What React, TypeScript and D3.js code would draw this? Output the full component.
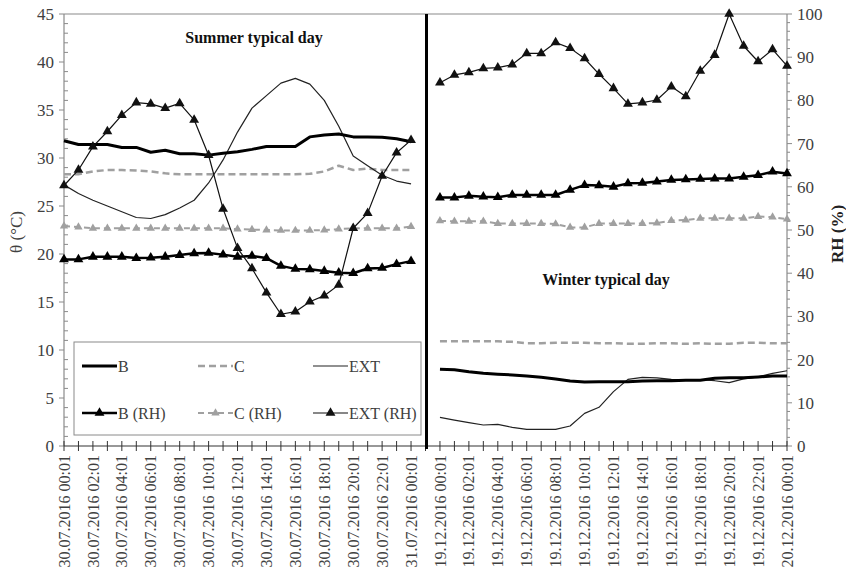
import React from "react";
import * as d3 from "d3";

// Hourly readings, summer typical day (30.07.2016 00:01 … 31.07.2016 00:01)
const summerB = [31.8, 31.4, 31.4, 31.4, 31.1, 31.1, 30.6, 30.8, 30.45, 30.45, 30.3, 30.5, 30.65, 30.9, 31.2, 31.2, 31.2, 32.2, 32.4, 32.5, 32.2, 32.2, 32.15, 32.0, 31.7];
const summerC = [28.3, 28.3, 28.6, 28.75, 28.75, 28.7, 28.6, 28.4, 28.3, 28.3, 28.3, 28.3, 28.3, 28.3, 28.3, 28.3, 28.3, 28.35, 28.6, 29.2, 28.75, 28.9, 28.75, 28.75, 28.75];
const summerExt = [27.2, 26.3, 25.6, 25.0, 24.4, 23.8, 23.7, 24.1, 24.8, 25.6, 27.4, 29.8, 32.7, 35.2, 36.5, 37.8, 38.3, 37.7, 36.0, 33.3, 30.2, 29.2, 28.2, 27.6, 27.3];
const summerBRH = [43.2, 43.2, 43.8, 43.8, 43.8, 43.5, 43.6, 43.8, 44.2, 44.6, 44.7, 44.3, 43.8, 44.0, 43.5, 41.7, 41.0, 40.9, 40.5, 40.1, 40.0, 41.1, 41.2, 42.1, 42.8];
const summerCRH = [50.9, 50.7, 50.4, 50.4, 50.4, 50.4, 50.4, 50.4, 50.4, 50.4, 50.4, 50.4, 50.2, 50.1, 50.0, 49.9, 49.9, 49.9, 50.0, 50.2, 50.4, 50.4, 50.4, 50.4, 50.8];
const summerExtRH = [60.3, 63.9, 69.3, 72.8, 76.6, 79.5, 79.2, 78.2, 79.3, 75.5, 67.3, 54.9, 45.8, 41.1, 35.5, 30.5, 31.1, 33.4, 34.8, 37.3, 50.4, 53.9, 62.5, 67.9, 70.8];

// Hourly readings, winter typical day (19.12.2016 00:01 … 20.12.2016 00:01)
const winterB = [7.99, 7.95, 7.74, 7.57, 7.47, 7.4, 7.29, 7.15, 6.98, 6.77, 6.67, 6.7, 6.7, 6.7, 6.77, 6.8, 6.8, 6.84, 6.84, 7.05, 7.1, 7.1, 7.2, 7.28, 7.28];
const winterC = [10.9, 10.9, 10.9, 10.9, 10.9, 10.85, 10.7, 10.7, 10.75, 10.75, 10.75, 10.7, 10.7, 10.65, 10.65, 10.7, 10.7, 10.65, 10.7, 10.65, 10.65, 10.75, 10.75, 10.7, 10.7];
const winterExt = [2.99, 2.7, 2.43, 2.19, 2.25, 1.94, 1.74, 1.74, 1.74, 2.08, 3.4, 4.03, 5.66, 6.94, 7.15, 7.1, 6.94, 6.9, 6.9, 6.8, 6.6, 7.0, 7.2, 7.57, 7.84];
const winterBRH = [57.5, 57.5, 57.9, 57.7, 57.6, 58.1, 58.1, 58.1, 58.1, 59.3, 60.4, 60.3, 60.0, 60.8, 60.9, 61.2, 61.6, 61.7, 61.8, 61.9, 61.9, 62.3, 62.7, 63.5, 63.1];
const winterCRH = [52.1, 52.0, 52.0, 52.0, 51.5, 51.5, 51.5, 51.5, 51.4, 50.6, 50.6, 51.5, 51.5, 51.5, 51.5, 51.6, 52.2, 52.3, 52.7, 52.7, 52.7, 52.7, 53.1, 53.0, 52.5];
const winterExtRH = [84.1, 85.9, 86.5, 87.4, 87.6, 88.3, 90.9, 90.9, 93.4, 92.1, 89.7, 86.1, 82.8, 79.2, 79.5, 80.1, 83.2, 80.9, 86.8, 90.5, 100, 92.6, 89.0, 91.8, 88.0];

const summerTickLabels = [
  "30.07.2016 00:01", "30.07.2016 02:01", "30.07.2016 04:01", "30.07.2016 06:01",
  "30.07.2016 08:01", "30.07.2016 10:01", "30.07.2016 12:01", "30.07.2016 14:01",
  "30.07.2016 16:01", "30.07.2016 18:01", "30.07.2016 20:01", "30.07.2016 22:01",
  "31.07.2016 00:01",
];
const winterTickLabels = [
  "19.12.2016 00:01", "19.12.2016 02:01", "19.12.2016 04:01", "19.12.2016 06:01",
  "19.12.2016 08:01", "19.12.2016 10:01", "19.12.2016 12:01", "19.12.2016 14:01",
  "19.12.2016 16:01", "19.12.2016 18:01", "19.12.2016 20:01", "19.12.2016 22:01",
  "20.12.2016 00:01",
];

const tempTicks = [0, 5, 10, 15, 20, 25, 30, 35, 40, 45];
const rhTicks = [0, 10, 20, 30, 40, 50, 60, 70, 80, 90, 100];

const W = 846;
const H = 572;
const L = 64;
const R = 787;
const T = 14;
const B = 446;
const FONT = "Liberation Serif, Times New Roman, serif";
const TXT = "#404040";
const AXIS = "#8a8a8a";
const GREY = "#a0a0a0";

// 25 summer slots, one empty slot for the divider, 25 winter slots
const x = d3.scaleLinear().domain([0, 50]).range([L, R]);
const yT = d3.scaleLinear().domain([0, 45]).range([B, T]);
const yRH = d3.scaleLinear().domain([0, 100]).range([B, T]);

const WINTER_OFFSET = 26;

type Series = {
  values: number[];
  offset: number;
  scale: d3.ScaleLinear<number, number>;
  color: string;
  width: number;
  dash?: string;
  marker?: number;
};

const tri = d3.symbol().type(d3.symbolTriangle);

function SeriesPath({ s }: { s: Series }) {
  const line = d3
    .line<number>()
    .x((_, i) => x(i + s.offset))
    .y((v) => s.scale(v));
  return (
    <g>
      <path d={line(s.values) || ""} fill="none" stroke={s.color} strokeWidth={s.width} strokeDasharray={s.dash} strokeLinejoin="round" />
      {s.marker
        ? s.values.map((v, i) => (
            <path key={i} d={tri.size(s.marker!)() || ""} transform={`translate(${x(i + s.offset)},${s.scale(v)})`} fill={s.color} />
          ))
        : null}
    </g>
  );
}

function makeSeries(
  values: number[],
  offset: number,
  scale: d3.ScaleLinear<number, number>,
  style: Omit<Series, "values" | "offset" | "scale">
): Series {
  return { values, offset, scale, ...style };
}

const styleB = { color: "#000", width: 3 };
const styleC = { color: GREY, width: 2.5, dash: "7,4" };
const styleExt = { color: "#222", width: 1.2 };
const styleBRH = { color: "#000", width: 2.5, marker: 42 };
const styleCRH = { color: GREY, width: 2, dash: "6,4", marker: 30 };
const styleExtRH = { color: "#111", width: 1.2, marker: 42 };

const allSeries: Series[] = [
  makeSeries(summerC, 0, yT, styleC),
  makeSeries(summerExt, 0, yT, styleExt),
  makeSeries(summerB, 0, yT, styleB),
  makeSeries(summerCRH, 0, yRH, styleCRH),
  makeSeries(summerBRH, 0, yRH, styleBRH),
  makeSeries(summerExtRH, 0, yRH, styleExtRH),
  makeSeries(winterC, WINTER_OFFSET, yT, styleC),
  makeSeries(winterExt, WINTER_OFFSET, yT, styleExt),
  makeSeries(winterB, WINTER_OFFSET, yT, styleB),
  makeSeries(winterCRH, WINTER_OFFSET, yRH, styleCRH),
  makeSeries(winterBRH, WINTER_OFFSET, yRH, styleBRH),
  makeSeries(winterExtRH, WINTER_OFFSET, yRH, styleExtRH),
];

const legendItems = [
  { label: "B", style: styleB, col: 0, row: 0 },
  { label: "C", style: styleC, col: 1, row: 0 },
  { label: "EXT", style: styleExt, col: 2, row: 0 },
  { label: "B (RH)", style: styleBRH, col: 0, row: 1 },
  { label: "C (RH)", style: styleCRH, col: 1, row: 1 },
  { label: "EXT (RH)", style: styleExtRH, col: 2, row: 1 },
];

export default function App() {
  const minorT = d3.range(0, 46, 1).filter((v) => v % 5 !== 0);
  const minorRH = d3.range(0, 101, 2).filter((v) => v % 10 !== 0);
  const hourTicks = d3.range(0, 51);
  const xLabels = [
    ...summerTickLabels.map((t, k) => ({ t, i: k * 2 })),
    ...winterTickLabels.map((t, k) => ({ t, i: WINTER_OFFSET + k * 2 })),
  ];
  const legX = 74;
  const legY = 342;
  const colX = [legX + 8, legX + 124, legX + 239];
  const rowY = [legY + 24, legY + 71];
  const txt = { fontFamily: FONT };

  return (
    <svg width={W} height={H} style={{ position: "absolute", left: 0, top: 0, background: "#fff", fontFamily: FONT }}>
      <rect x={0} y={0} width={W} height={H} fill="#fff" />
      {/* plot frame top */}
      <line x1={L} x2={R} y1={T} y2={T} stroke={AXIS} strokeWidth={1.2} />

      {/* left axis */}
      <line x1={L} x2={L} y1={T} y2={B} stroke={AXIS} strokeWidth={1.2} />
      {tempTicks.map((v) => (
        <g key={"lt" + v}>
          <line x1={L - 5} x2={L} y1={yT(v)} y2={yT(v)} stroke={AXIS} />
          <text x={L - 10} y={yT(v)} dy="0.35em" textAnchor="end" fontSize={17} fill={TXT} style={txt}>
            {v}
          </text>
        </g>
      ))}
      {minorT.map((v) => (
        <line key={"lm" + v} x1={L} x2={L + 4} y1={yT(v)} y2={yT(v)} stroke={AXIS} />
      ))}

      {/* right axis */}
      <line x1={R} x2={R} y1={T} y2={B} stroke={AXIS} strokeWidth={1.2} />
      {rhTicks.map((v) => (
        <g key={"rt" + v}>
          <line x1={R} x2={R + 5} y1={yRH(v)} y2={yRH(v)} stroke={AXIS} />
          <text x={R + 10} y={yRH(v)} dy="0.35em" textAnchor="start" fontSize={17} fill={TXT} style={txt}>
            {v}
          </text>
        </g>
      ))}
      {minorRH.map((v) => (
        <line key={"rm" + v} x1={R} x2={R + 3} y1={yRH(v)} y2={yRH(v)} stroke={AXIS} />
      ))}

      {/* bottom axis */}
      <line x1={L} x2={R} y1={B} y2={B} stroke="#333" strokeWidth={1.2} />
      {hourTicks.map((i) => (
        <line key={"xt" + i} x1={x(i)} x2={x(i)} y1={B - 5} y2={B + 5} stroke="#333" />
      ))}
      {xLabels.map(({ t, i }) => (
        <text key={"xl" + i} transform={`translate(${x(i)},${B + 9}) rotate(-90)`} dy="0.35em" textAnchor="end" fontSize={16} fill={TXT} style={txt}>
          {t}
        </text>
      ))}

      {/* axis titles */}
      <text transform={`translate(16,232) rotate(-90)`} dy="0.35em" textAnchor="middle" fontSize={17} fill={TXT} style={txt}>
        θ (°C)
      </text>
      <text transform={`translate(837,234) rotate(-90)`} dy="0.35em" textAnchor="middle" fontSize={17} fontWeight="bold" fill="#222" style={txt}>
        RH (%)
      </text>

      {/* series */}
      {allSeries.map((s, k) => (
        <SeriesPath key={k} s={s} />
      ))}

      {/* summer / winter divider */}
      <line x1={x(25) + 1} x2={x(25) + 1} y1={T} y2={B + 3} stroke="#000" strokeWidth={3} />

      {/* panel titles */}
      <text x={254} y={43} textAnchor="middle" fontSize={16} fontWeight="bold" fill="#111" style={txt}>
        Summer typical day
      </text>
      <text x={606} y={285} textAnchor="middle" fontSize={16} fontWeight="bold" fill="#111" style={txt}>
        Winter typical day
      </text>

      {/* legend */}
      <rect x={legX} y={legY} width={347} height={93} fill="#fff" stroke={AXIS} strokeWidth={1} />
      {legendItems.map((it) => {
        const x0 = colX[it.col];
        const yy = rowY[it.row];
        return (
          <g key={it.label}>
            <line x1={x0} x2={x0 + 35} y1={yy} y2={yy} stroke={it.style.color} strokeWidth={it.style.width} strokeDasharray={(it.style as any).dash} />
            {(it.style as any).marker ? (
              <path d={tri.size((it.style as any).marker)() || ""} transform={`translate(${x0 + 17.5},${yy})`} fill={it.style.color} />
            ) : null}
            <text x={x0 + 36} y={yy} dy="0.35em" fontSize={16} fill={TXT} style={txt}>
              {it.label}
            </text>
          </g>
        );
      })}
    </svg>
  );
}
